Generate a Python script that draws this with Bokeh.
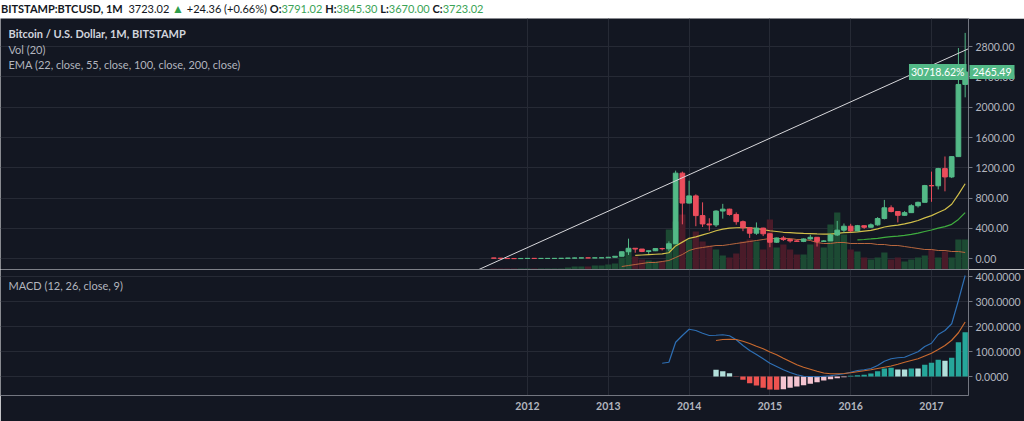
import pandas as pd
from bokeh.plotting import figure
from bokeh.layouts import column
from bokeh.models import Range1d, FixedTicker, PrintfTickFormatter, Label, Div, Span
from bokeh.embed import file_html
from bokeh.resources import INLINE

# ---------------- data (monthly, BITSTAMP BTC/USD) ----------------
months = [f"{d.year}-{d.month:02d}" for d in pd.date_range("2011-08-01", "2017-06-01", freq="MS")]

opens = [10.9, 8.2, 5.1, 3.2, 3.0,
         4.7, 5.5, 4.9, 4.9, 5.0, 5.2, 6.7, 9.3, 10.2, 12.4, 11.2, 12.6,
         13.5, 20.4, 33.4, 93.0, 139.0, 129.0, 97.0, 106.0, 135.0, 133.0, 198.0, 1130.0,
         735, 830, 570, 460, 447, 630, 655, 585, 490, 410, 338, 405,
         330, 219, 275, 254, 236, 230, 262, 284, 230, 236, 314, 378,
         430, 368, 437, 416, 448, 531, 673, 624, 574, 609, 700, 745,
         966, 963, 1190, 1080, 1348, 2300]
highs = [13.0, 8.9, 5.2, 3.6, 4.8,
         7.4, 6.2, 5.4, 5.2, 5.2, 6.8, 9.6, 16.0, 12.8, 12.6, 12.9, 13.9,
         20.8, 33.5, 95, 266, 140, 129, 111, 135, 145, 230, 1163, 1150,
         1030, 850, 745, 535, 640, 725, 660, 612, 505, 420, 480, 410,
         340, 280, 300, 262, 248, 268, 316, 287, 247, 330, 500, 466,
         462, 447, 440, 467, 550, 777, 705, 626, 629, 720, 754, 975,
         1150, 1200, 1350, 1350, 2780, 2980]
lows = [7.0, 4.5, 2.2, 2.0, 2.8,
        4.6, 4.3, 4.6, 4.8, 4.9, 5.2, 6.5, 7.1, 9.9, 9.9, 10.5, 12.3,
        13.2, 19.6, 33, 50, 80, 88, 65, 102, 111, 100, 197, 455,
        730, 430, 420, 370, 420, 530, 570, 450, 365, 275, 316, 300,
        153, 210, 236, 214, 228, 220, 250, 162, 226, 236, 300, 345,
        350, 365, 395, 413, 437, 520, 612, 480, 570, 604, 677, 745,
        752, 915, 890, 1065, 1348, 2130]
closes = [8.2, 5.1, 3.2, 3.0, 4.7,
          5.5, 4.9, 4.92, 5.0, 5.2, 6.7, 9.3, 10.2, 12.4, 11.2, 12.6, 13.5,
          20.4, 33.4, 93, 139, 129, 97, 106, 135, 133, 198, 1130, 735,
          830, 570, 460, 447, 630, 655, 585, 490, 410, 338, 405, 330,
          219, 275, 254, 236, 230, 262, 284, 230, 236, 314, 378, 430,
          368, 437, 416, 448, 531, 673, 624, 574, 609, 700, 745, 966,
          963, 1190, 1080, 1348, 2300, 2465.49]
# volume, thousand BTC
volumes = [20, 20, 20, 20, 20,
           20, 20, 20, 20, 20, 20, 40, 60, 60, 60, 80, 80,
           100, 120, 240, 420, 260, 200, 180, 160, 160, 800, 960, 1100,
           600, 760, 560, 480, 400, 280, 240, 320, 560, 600, 560, 400,
           1000, 440, 500, 400, 300, 300, 500, 600, 440, 900, 1140, 700,
           400, 360, 240, 200, 240, 340, 200, 240, 160, 200, 240, 280,
           400, 240, 360, 240, 600, 600]
vol_ma_start = "2013-03"
vol_ma = [60, 80, 100, 120, 140, 140, 160, 180, 240, 300,
          380, 420, 440, 460, 480, 480, 500, 520, 540, 560, 580, 600,
          620, 620, 620, 620, 600, 600, 580, 540, 520, 520, 540, 540,
          520, 520, 520, 520, 500, 500, 480, 480, 460, 440, 420, 400,
          400, 380, 380, 360, 360, 340]
ema22_start = "2013-05"
ema22 = [45, 50, 55, 60, 65, 80, 170, 220,
         270, 290, 315, 340, 370, 392, 405, 410, 413, 410, 400, 385,
         370, 360, 350, 345, 340, 335, 332, 328, 325, 325, 335, 345,
         350, 355, 365, 375, 395, 420, 435, 445, 460, 480, 505, 540,
         570, 610, 650, 720, 850, 990]
ema55_start = "2016-02"
ema55 = [250, 255, 262, 270, 282, 292, 300, 310, 322, 338, 360, 380,
         405, 425, 455, 520, 610]
macd_start = "2013-09"
macd = [53, 57, 137, 164,
        189, 184, 173, 164, 165, 167, 163, 147, 124, 104, 88, 71,
        53, 40, 27, 16, 7, 1, 0, -1, 1, 3, 7, 11,
        17, 24, 27, 32, 44, 61, 71, 75, 77, 88, 99, 120,
        133, 168, 184, 211, 304, 404]
signal_start = "2014-05"
signal = [144, 148, 149, 148, 141, 132, 121, 111,
          98, 87, 73, 60, 47, 37, 29, 21, 14, 11, 11, 12,
          15, 19, 23, 27, 32, 37, 42, 49, 57, 64, 71, 82,
          93, 108, 124, 145, 175, 218]
hist = [27, 21, 13, -1, -13, -27, -36, -45,
        -52, -53, -51, -45, -40, -35, -29, -23, -16, -11, -7, -3,
        3, 5, 7, 12, 21, 32, 35, 28, 28, 32, 32, 47,
        55, 67, 63, 75, 137, 177]

trend_x = [2011.39, 2017.46]
trend_y = [-145, 2772]

price_ticks = [0, 400, 800, 1200, 1600, 2000, 2400, 2800]
macd_ticks = [0, 100, 200, 300, 400]
year_ticks = [2012, 2013, 2014, 2015, 2016, 2017]

last_close_text = "2465.49"
range_pct_text = "30718.62%"
header_html = ('<b>BITSTAMP:BTCUSD, 1M</b>&nbsp; 3723.02 '
               '<span style="color:#2f9e4b;font-size:12px">&#9650;</span> '
               '+24.36 (+0.66%) <b>O:</b><span style="color:#3aa356">3791.02</span> '
               '<b>H:</b><span style="color:#3aa356">3845.30</span> '
               '<b>L:</b><span style="color:#3aa356">3670.00</span> '
               '<b>C:</b><span style="color:#3aa356">3723.02</span>')

# ---------------- helpers ----------------
def yr(m):
    return int(m[:4]) + (int(m[5:7]) - 1) / 12.0

x = [yr(m) for m in months]
def xs_from(start, n):
    i = months.index(start)
    return x[i:i + n]

BG = "#131722"
GRID = "#262a35"
SEP = "#737680"
TXT = "#b2b5be"
UP = "#53b987"
DN = "#eb4d5c"
VUP = "#1c4a33"
VDN = "#4a1b29"
FONT = "Lato"
FW = 968          # frame width
RB = 56           # right axis band
PH = 251          # price frame height
MH = 126          # macd frame height
XB = 26           # x-axis band

X0 = 2012 - 527 / 80.8
X1 = 2012 + 441 / 80.8

# ---------------- price pane ----------------
p = figure(frame_width=FW, frame_height=PH, x_range=Range1d(X0, X1), y_range=Range1d(-141, 3170),
           y_axis_location="right", output_backend="svg", toolbar_location=None,
           min_border_left=0, min_border_right=RB, min_border_top=0, min_border_bottom=0,
           background_fill_color=BG, border_fill_color=BG, outline_line_color=None)
p.xaxis.visible = False
p.xgrid.ticker = FixedTicker(ticks=year_ticks)
p.ygrid.ticker = FixedTicker(ticks=price_ticks)
p.grid.grid_line_color = GRID
p.yaxis.ticker = FixedTicker(ticks=price_ticks)
p.yaxis.formatter = PrintfTickFormatter(format="%.2f")
for ax in (p.yaxis,):
    ax.axis_line_color = SEP
    ax.major_tick_line_color = SEP
    ax.major_tick_out = 4
    ax.major_tick_in = 0
    ax.minor_tick_line_color = None
    ax.major_label_text_color = TXT
    ax.major_label_text_font = FONT
    ax.major_label_text_font_size = "10.5px"
    ax.major_label_standoff = 3

p.extra_y_ranges = {"vol": Range1d(0, 5020)}
vcols = [VUP if c >= o else VDN for o, c in zip(opens, closes)]
p.vbar(x=x, top=volumes, width=0.077, fill_color=vcols, line_color=None, y_range_name="vol")
p.line(xs_from(vol_ma_start, len(vol_ma)), vol_ma, y_range_name="vol", line_color="#b8673e", line_width=1)

p.line(xs_from(ema22_start, len(ema22)), ema22, line_color="#d2c04a", line_width=1.2)
p.line(xs_from(ema55_start, len(ema55)), ema55, line_color="#3fae3f", line_width=1.2)

ccols = [UP if c >= o else DN for o, c in zip(opens, closes)]
p.segment(x0=x, y0=lows, x1=x, y1=highs, line_color=ccols, line_width=1)
p.vbar(x=x, top=[max(o, c) for o, c in zip(opens, closes)],
       bottom=[min(o, c) for o, c in zip(opens, closes)],
       width=0.058, fill_color=ccols, line_color=ccols, line_width=1)

p.line(trend_x, trend_y, line_color="#d8d8dc", line_width=1)

p.add_layout(Label(x=X1, y=closes[-1], x_offset=-2, text=range_pct_text, text_align="right",
                   text_baseline="middle", text_color="white", text_font=FONT, text_font_size="10.5px",
                   background_fill_color=UP, padding=2, level="overlay"))
# price tag on the axis band: placed in the side panel so that it is not clipped to the frame
p.add_layout(Label(x=X1, y=closes[-1], x_offset=1, text=last_close_text, text_align="left",
                   text_baseline="middle", text_color="white", text_font=FONT, text_font_size="10.5px",
                   background_fill_color=UP, padding=3, level="overlay"), "right")

legend_lines = [("Bitcoin / U.S. Dollar, 1M, BITSTAMP", "bold", "#d1d4dc", 15),
                ("Vol (20)", "normal", TXT, 31),
                ("EMA (22, close, 55, close, 100, close, 200, close)", "normal", TXT, 46)]
for txt, style, col, off in legend_lines:
    p.add_layout(Label(x=8, y=PH - off, x_units="screen", y_units="screen", text=txt,
                       text_font=FONT, text_font_size="11px", text_font_style=style,
                       text_color=col, text_baseline="middle"))

# ---------------- MACD pane ----------------
m = figure(frame_width=FW, frame_height=MH, x_range=p.x_range, y_range=Range1d(-76, 428),
           y_axis_location="right", output_backend="svg", toolbar_location=None,
           min_border_left=0, min_border_right=RB, min_border_top=0, min_border_bottom=XB,
           background_fill_color=BG, border_fill_color=BG, outline_line_color=None)
m.xgrid.ticker = FixedTicker(ticks=year_ticks)
m.ygrid.ticker = FixedTicker(ticks=macd_ticks)
m.grid.grid_line_color = GRID
m.yaxis.ticker = FixedTicker(ticks=macd_ticks)
m.yaxis.formatter = PrintfTickFormatter(format="%.4f")
m.xaxis.ticker = FixedTicker(ticks=year_ticks)
for ax in (m.yaxis, m.xaxis):
    ax.axis_line_color = SEP
    ax.major_tick_line_color = SEP
    ax.major_tick_in = 0
    ax.minor_tick_line_color = None
    ax.major_label_text_color = TXT
    ax.major_label_text_font = FONT
    ax.major_label_text_font_size = "10.5px"
m.yaxis.major_tick_out = 4
m.yaxis.major_label_standoff = 3
m.xaxis.major_tick_out = 0
m.xaxis.major_label_standoff = 6
m.xaxis.major_label_text_font_style = "bold"

m.add_layout(Span(location=428, dimension="width", line_color=SEP, line_width=1))

hx = xs_from(signal_start, len(hist))
hcols = []
prev = None
for h in hist:
    rising = prev is not None and h > prev
    if h >= 0:
        hcols.append("#26a69a" if rising else "#b2dfdb")
    else:
        hcols.append("#f4c4d0" if rising else "#ef5350")
    prev = h
m.vbar(x=hx, top=hist, bottom=0, width=0.066, fill_color=hcols, line_color=None)
m.line(xs_from(macd_start, len(macd)), macd, line_color="#2e6fb4", line_width=1.2)
m.line(xs_from(signal_start, len(signal)), signal, line_color="#c8692e", line_width=1.2)

m.add_layout(Label(x=8, y=MH - 16, x_units="screen", y_units="screen", text="MACD (12, 26, close, 9)",
                   text_font=FONT, text_font_size="11px", text_color=TXT, text_baseline="middle"))

header = Div(text=header_html, width=FW + RB, height=18, margin=0,
             styles={"background-color": "white", "font-family": "Lato", "font-size": "11px",
                     "line-height": "17px", "color": "#131722", "white-space": "nowrap",
                     "overflow": "hidden", "padding-left": "1px"})

layout = column(header, p, m, spacing=0)
open("out.html", "w").write(file_html(layout, INLINE))
